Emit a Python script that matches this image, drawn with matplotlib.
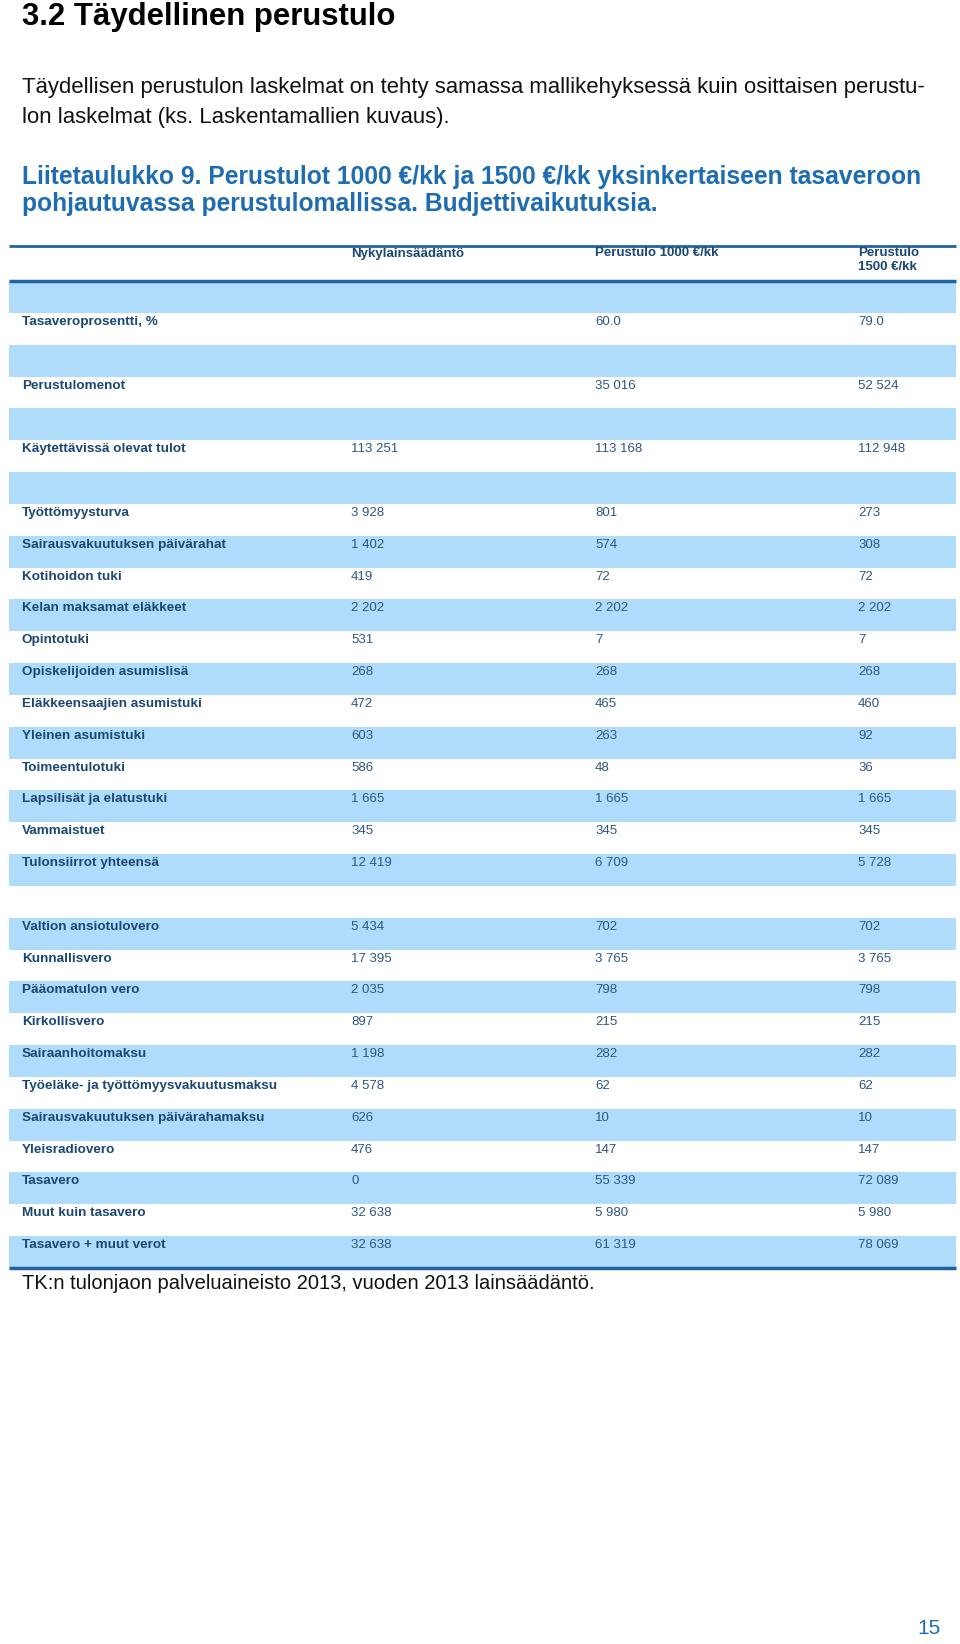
import matplotlib
matplotlib.use("Agg")
import matplotlib.pyplot as plt

plt.rcParams['font.family'] = ['Liberation Sans', 'DejaVu Sans']

# Table data (None = empty cell, "" label = blank spacer row)
labels = ["", "Tasaveroprosentti, %", "", "Perustulomenot", "", "Käytettävissä olevat tulot", "",
          "Työttömyysturva", "Sairausvakuutuksen päivärahat", "Kotihoidon tuki",
          "Kelan maksamat eläkkeet", "Opintotuki", "Opiskelijoiden asumislisä",
          "Eläkkeensaajien asumistuki", "Yleinen asumistuki", "Toimeentulotuki",
          "Lapsilisät ja elatustuki", "Vammaistuet", "Tulonsiirrot yhteensä", "",
          "Valtion ansiotulovero", "Kunnallisvero", "Pääomatulon vero", "Kirkollisvero",
          "Sairaanhoitomaksu", "Työeläke- ja työttömyysvakuutusmaksu",
          "Sairausvakuutuksen päivärahamaksu", "Yleisradiovero", "Tasavero",
          "Muut kuin tasavero", "Tasavero + muut verot"]
nyky = [None, None, None, None, None, 113251, None,
        3928, 1402, 419, 2202, 531, 268, 472, 603, 586, 1665, 345, 12419, None,
        5434, 17395, 2035, 897, 1198, 4578, 626, 476, 0, 32638, 32638]
pt1000 = [None, 60.0, None, 35016, None, 113168, None,
          801, 574, 72, 2202, 7, 268, 465, 263, 48, 1665, 345, 6709, None,
          702, 3765, 798, 215, 282, 62, 10, 147, 55339, 5980, 61319]
pt1500 = [None, 79.0, None, 52524, None, 112948, None,
          273, 308, 72, 2202, 7, 268, 460, 92, 36, 1665, 345, 5728, None,
          702, 3765, 798, 215, 282, 62, 10, 147, 72089, 5980, 78069]
headers = ["Nykylainsäädäntö", "Perustulo 1000 €/kk", "Perustulo\n1500 €/kk"]


def fmt(v):
    # Finnish style: space as thousands separator, one decimal for floats
    if v is None:
        return ""
    if isinstance(v, float):
        return "%.1f" % v
    return "{:,}".format(v).replace(",", " ")


# colours
LINE = "#2363a0"
BAND = "#aedcfa"
LABEL = "#1b4772"
VALUE = "#2f5680"
HEAD_BLUE = "#1e6cb2"

fig = plt.figure(figsize=(9.6, 16.44), dpi=100)
ax = fig.add_axes([0, 0, 1, 1])
ax.set_xlim(0, 960)
ax.set_ylim(1644, 0)
ax.axis("off")

# page texts
ax.text(22, 17, "3.2 Täydellinen perustulo", fontsize=22.4, fontweight="bold",
        color="black", va="center")
ax.text(22, 87, "Täydellisen perustulon laskelmat on tehty samassa mallikehyksessä kuin osittaisen perustu-",
        fontsize=15.9, color="#111111", va="center")
ax.text(22, 117, "lon laskelmat (ks. Laskentamallien kuvaus).", fontsize=15.9, color="#111111", va="center")
ax.text(22, 177, "Liitetaulukko 9. Perustulot 1000 €/kk ja 1500 €/kk yksinkertaiseen tasaveroon",
        fontsize=17.7, fontweight="bold", color=HEAD_BLUE, va="center")
ax.text(22, 204, "pohjautuvassa perustulomallissa. Budjettivaikutuksia.",
        fontsize=17.7, fontweight="bold", color=HEAD_BLUE, va="center")

# table geometry
x0, x1 = 9, 956
col_x = [22, 351, 595, 858]
top_line = 246
head_bottom = 281
row_h = (1268 - head_bottom) / len(labels)

# header
ax.plot([x0, x1], [top_line, top_line], color=LINE, lw=2, solid_capstyle="butt")
for cx, h in zip(col_x[1:], headers):
    ax.text(cx, 247.5, h, fontsize=9.5, fontweight="bold", color=LABEL, va="top",
            linespacing=1.2)

# rows: every second row shaded
for i, lab in enumerate(labels):
    y = head_bottom + i * row_h
    if i % 2 == 0:
        ax.axhspan(y, y + row_h, xmin=x0 / 960, xmax=x1 / 960, color=BAND, lw=0)
    ty = y + 9
    if lab:
        ax.text(col_x[0], ty, lab, fontsize=9.7, fontweight="bold", color=LABEL, va="center")
    for cx, vals in zip(col_x[1:], [nyky, pt1000, pt1500]):
        s = fmt(vals[i])
        if s:
            ax.text(cx, ty, s, fontsize=9.5, color=VALUE, va="center")

bottom = head_bottom + len(labels) * row_h
ax.plot([x0, x1], [head_bottom, head_bottom], color=LINE, lw=2.5, solid_capstyle="butt")
ax.plot([x0, x1], [bottom, bottom], color=LINE, lw=2.5, solid_capstyle="butt")

ax.text(22, 1283, "TK:n tulonjaon palveluaineisto 2013, vuoden 2013 lainsäädäntö.",
        fontsize=14.5, color="#111111", va="center")
ax.text(941, 1628, "15", fontsize=15, color=HEAD_BLUE, va="center", ha="right")

fig.savefig("out.png", dpi=100)
